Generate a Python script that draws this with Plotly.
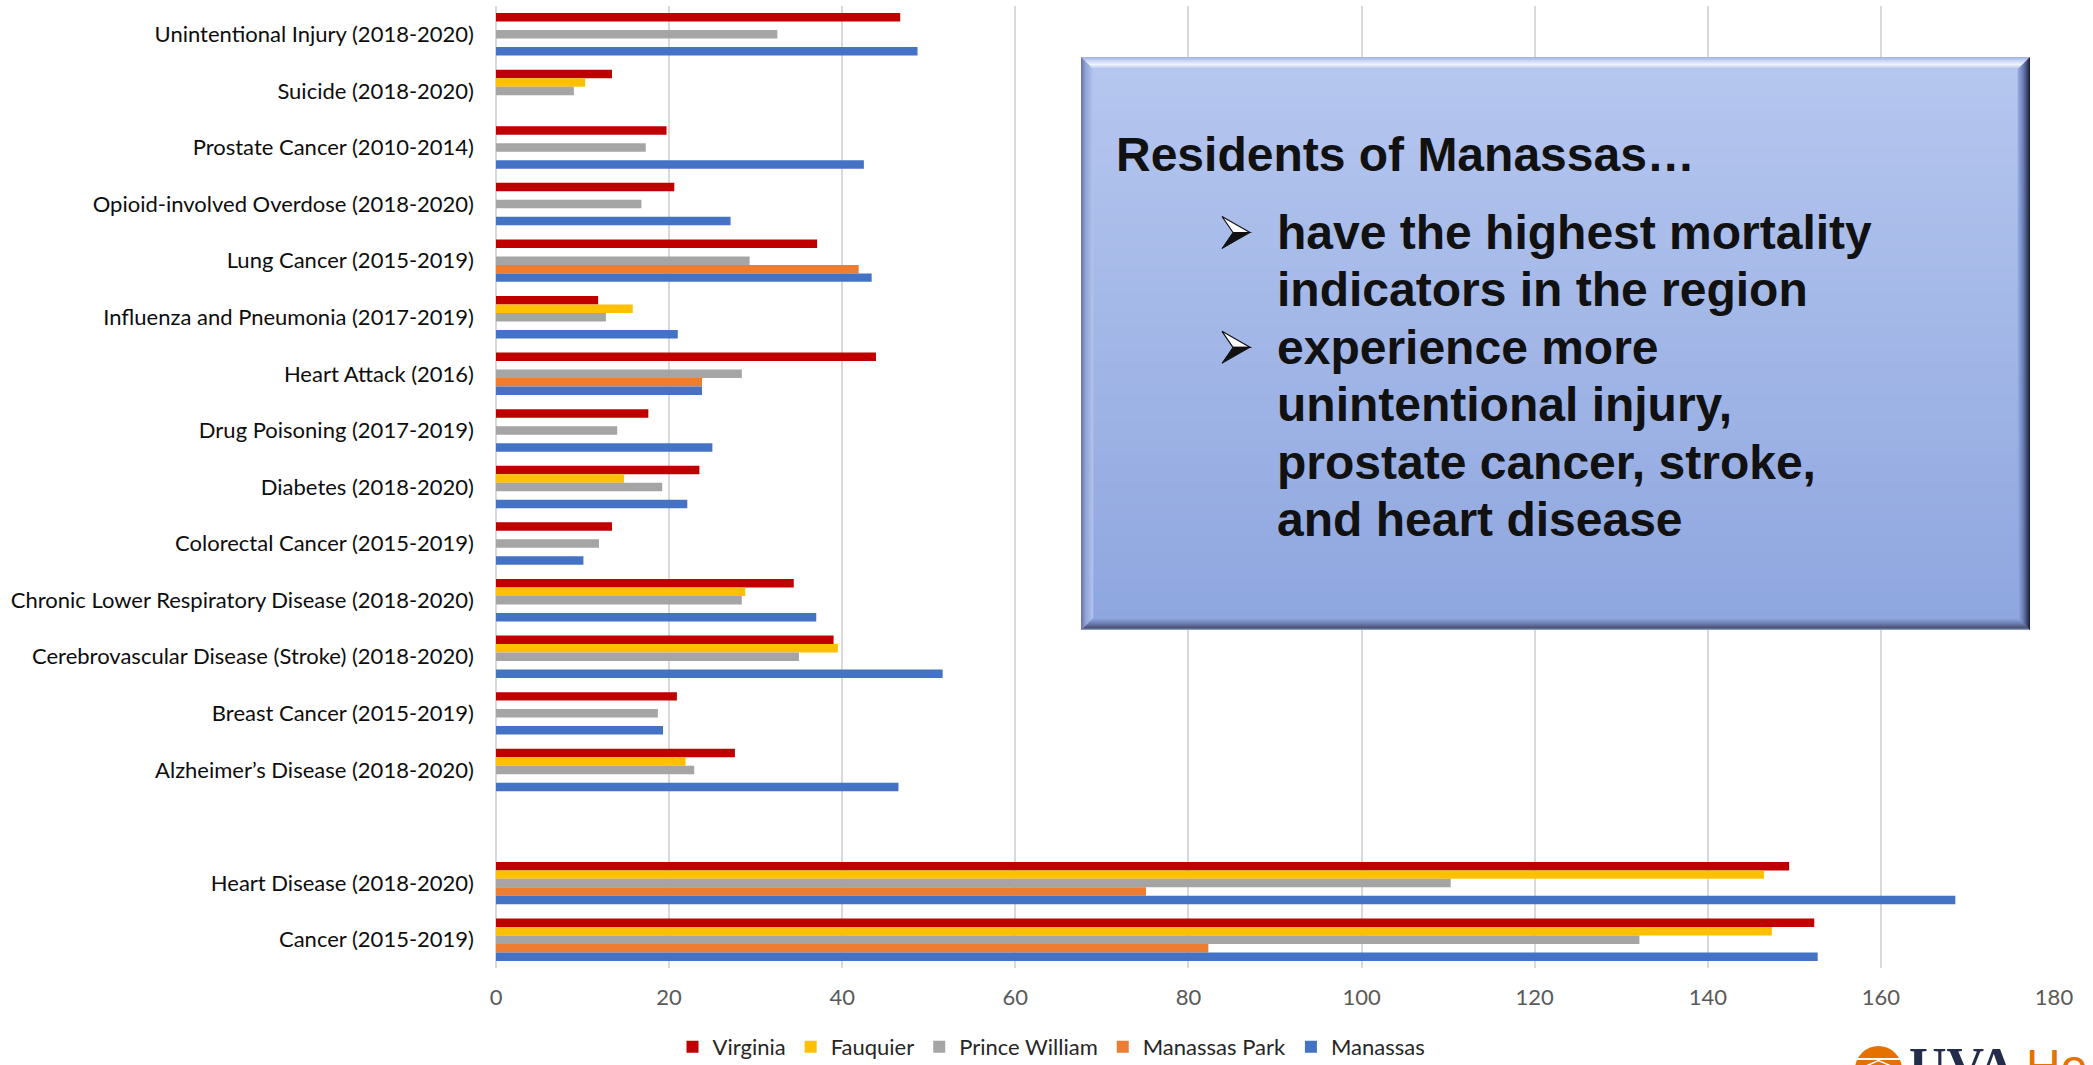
import plotly.graph_objects as go

# ---------------- data ----------------
categories = [
    "Unintentional Injury (2018-2020)",
    "Suicide (2018-2020)",
    "Prostate Cancer (2010-2014)",
    "Opioid-involved Overdose (2018-2020)",
    "Lung Cancer (2015-2019)",
    "Influenza and Pneumonia (2017-2019)",
    "Heart Attack (2016)",
    "Drug Poisoning (2017-2019)",
    "Diabetes (2018-2020)",
    "Colorectal Cancer (2015-2019)",
    "Chronic Lower Respiratory Disease (2018-2020)",
    "Cerebrovascular Disease (Stroke) (2018-2020)",
    "Breast Cancer (2015-2019)",
    "Alzheimer’s Disease (2018-2020)",
    " ",
    "Heart Disease (2018-2020)",
    "Cancer (2015-2019)",
]
virginia = [46.7, 13.4, 19.7, 20.6, 37.1, 11.8, 43.9, 17.6, 23.5, 13.4, 34.4, 39.0, 20.9, 27.6, None, 149.4, 152.3]
fauquier = [None, 10.3, None, None, None, 15.8, None, None, 14.8, None, 28.8, 39.5, None, 21.9, None, 146.5, 147.4]
prince_william = [32.5, 9.0, 17.3, 16.8, 29.3, 12.7, 28.4, 14.0, 19.2, 11.9, 28.4, 35.0, 18.7, 22.9, None, 110.3, 132.1]
manassas_park = [None, None, None, None, 41.9, None, 23.8, None, None, None, None, None, None, None, None, 75.1, 82.3]
manassas = [48.7, None, 42.5, 27.1, 43.4, 21.0, 23.8, 25.0, 22.1, 10.1, 37.0, 51.6, 19.3, 46.5, None, 168.6, 152.7]

series_names = ["Virginia", "Fauquier", "Prince William", "Manassas Park", "Manassas"]
series_values = [virginia, fauquier, prince_william, manassas_park, manassas]
series_colors = ["#C00000", "#FFC000", "#A5A5A5", "#ED7D31", "#4472C4"]

x_ticks = [0, 20, 40, 60, 80, 100, 120, 140, 160, 180]

box_title = "Residents of Manassas…"
box_lines = [
    "have the highest mortality",
    "indicators in the region",
    "experience more",
    "unintentional injury,",
    "prostate cancer, stroke,",
    "and heart disease",
]
bullet_line_index = [0, 2]

# ---------------- layout geometry ----------------
W, H = 2093, 1065
L, R, T, B = 496, 39, 6, 97
PW = W - L - R
PH = H - T - B


def px(x):
    return (x - L) / PW


def py(y):
    return (H - B - y) / PH


def hex2rgb(h):
    h = h.lstrip("#")
    return tuple(int(h[i:i + 2], 16) for i in (0, 2, 4))


def interp(stops, t):
    for (p0, c0), (p1, c1) in zip(stops[:-1], stops[1:]):
        if p0 <= t <= p1:
            f = 0 if p1 == p0 else (t - p0) / (p1 - p0)
            a, b = hex2rgb(c0), hex2rgb(c1)
            return "rgb(%d,%d,%d)" % tuple(round(a[i] + (b[i] - a[i]) * f) for i in range(3))
    return stops[-1][1]


def poly(points, color, line=None):
    path = "M " + " L ".join(f"{px(x):.5f},{py(y):.5f}" for x, y in points) + " Z"
    return dict(type="path", xref="paper", yref="paper", path=path,
                fillcolor=color, layer="above",
                line=line if line else dict(width=0))


fig = go.Figure()
for name, vals, col in zip(series_names, series_values, series_colors):
    fig.add_trace(go.Bar(
        y=categories, x=vals, name=name, orientation="h",
        marker=dict(color=col, line=dict(width=0)),
    ))

shapes = []
# ---- text box ----
bx0, by0, bx1, by1 = 1081, 57, 2030, 630
N = 90
body_stops = [(0, "#b6c7ef"), (1, "#8ea6df")]
for i in range(N):
    ya = by0 + (by1 - by0) * i / N
    yb = by0 + (by1 - by0) * (i + 1) / N + 0.8
    shapes.append(dict(type="rect", xref="paper", yref="paper",
                       x0=px(bx0), x1=px(bx1), y0=py(ya), y1=py(min(yb, by1)),
                       fillcolor=interp(body_stops, (i + 0.5) / N),
                       line=dict(width=0), layer="above"))
BV = 12
top_st = [(0, "#a3b5e5"), (0.35, "#cfdcf8"), (0.65, "#eef3ff"), (1, "#b6c7ef")]
left_st = [(0, "#6a78a6"), (0.4, "#93a5d8"), (1, "#b0c1eb")]
right_st = [(0, "#1c2233"), (0.2, "#3b476a"), (0.6, "#6d80b6"), (1, "#90a6de")]
bot_st = [(0, "#8a98c2"), (0.15, "#48536f"), (0.55, "#6d7fb3"), (1, "#8ea6df")]
for k in range(BV):
    a, b = k, k + 1.3
    t = k / (BV - 1)
    shapes.append(poly([(bx0 + a, by0 + a), (bx1 - a, by0 + a), (bx1 - b, by0 + b), (bx0 + b, by0 + b)], interp(top_st, t)))
    shapes.append(poly([(bx0 + a, by1 - a), (bx1 - a, by1 - a), (bx1 - b, by1 - b), (bx0 + b, by1 - b)], interp(bot_st, t)))
    shapes.append(poly([(bx0 + a, by0 + a), (bx0 + b, by0 + b), (bx0 + b, by1 - b), (bx0 + a, by1 - a)], interp(left_st, t)))
    shapes.append(poly([(bx1 - a, by0 + a), (bx1 - b, by0 + b), (bx1 - b, by1 - b), (bx1 - a, by1 - a)], interp(right_st, t)))

# ---- text lines ----
title_cy = 155
line_cy0 = 232.5
line_step = 57.4
annotations = [dict(text="<b>%s</b>" % box_title, x=px(1114), y=py(title_cy),
                    xref="paper", yref="paper", xanchor="left", yanchor="middle",
                    showarrow=False,
                    font=dict(family="Liberation Sans, Arial", size=48, color="#111111"))]
for i, ln in enumerate(box_lines):
    cy = line_cy0 + i * line_step
    annotations.append(dict(text="<b>%s</b>" % ln, x=px(1275), y=py(cy),
                            xref="paper", yref="paper", xanchor="left", yanchor="middle",
                            showarrow=False,
                            font=dict(family="Liberation Sans, Arial", size=48, color="#111111")))
    if i in bullet_line_index:
        tip = (1250, cy)
        top = (1222, cy - 16)
        notch = (1233, cy)
        bot = (1222, cy + 16)
        shapes.append(poly([tip, top, notch], "white", line=dict(color="#111111", width=1.2)))
        shapes.append(poly([tip, notch, bot], "#111111", line=dict(color="#111111", width=1)))

# ---- logo (partially cut off at bottom) ----
shapes.append(dict(type="circle", xref="paper", yref="paper",
                   x0=px(1855), x1=px(1902), y0=py(1046), y1=py(1093),
                   fillcolor="#E57200", line=dict(width=0), layer="above"))
shapes.append(dict(type="line", xref="paper", yref="paper",
                   x0=px(1853), x1=px(1904), y0=py(1059), y1=py(1059),
                   line=dict(color="white", width=2), layer="above"))
shapes.append(dict(type="path", xref="paper", yref="paper",
                   path=f"M {px(1866)},{py(1066)} L {px(1878.5)},{py(1060.5)} L {px(1891)},{py(1066)}",
                   line=dict(color="white", width=1.5), layer="above"))
annotations.append(dict(text="<b>UVA</b>", x=px(1907), y=py(1036), xref="paper", yref="paper",
                        xanchor="left", yanchor="top", showarrow=False,
                        font=dict(family="Liberation Serif, serif", size=52, color="#232D4B")))
annotations.append(dict(text="He", x=px(2024), y=py(1038), xref="paper", yref="paper",
                        xanchor="left", yanchor="top", showarrow=False,
                        font=dict(family="Liberation Sans, Arial", size=48, color="#E57200")))

fig.update_layout(
    width=W, height=H,
    margin=dict(l=L, r=R, t=T, b=B, pad=0),
    paper_bgcolor="white", plot_bgcolor="white",
    barmode="group", bargap=0.25, bargroupgap=0,
    font=dict(family="Lato, Open Sans, sans-serif"),
    showlegend=True,
    legend=dict(orientation="h", xref="container", yref="container",
                x=0.5024, xanchor="center", y=0.017, yanchor="middle",
                font=dict(family="Lato", size=22, color="#262626"),
                bgcolor="rgba(0,0,0,0)"),
    shapes=shapes,
    annotations=annotations,
    xaxis=dict(range=[0, 180], tickmode="array", tickvals=x_ticks,
               ticktext=[str(v) for v in x_ticks],
               showgrid=True, gridcolor="#d9d9d9", gridwidth=1.5,
               zeroline=True, zerolinecolor="#d9d9d9", zerolinewidth=2,
               showline=False, ticks="", ticklabelstandoff=14,
               tickfont=dict(family="Lato", size=22, color="#595959"),
               automargin=False, fixedrange=True),
    yaxis=dict(type="category", categoryorder="array", categoryarray=categories,
               autorange="reversed", showgrid=False, zeroline=False, showline=False,
               ticks="", ticklabelstandoff=21,
               tickfont=dict(family="Lato", size=22, color="#0d0d0d"),
               automargin=False, fixedrange=True),
)

fig.write_html("out.html",
               config={"displayModeBar": False},
               post_script="document.body.style.margin='0';document.body.style.overflow='hidden';")
